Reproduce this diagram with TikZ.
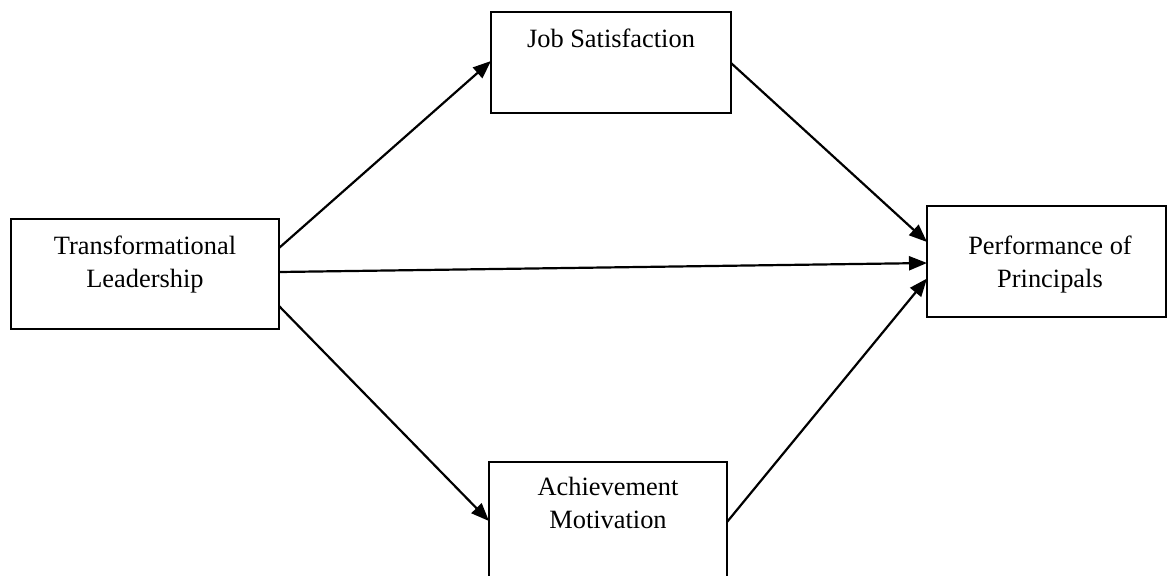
\documentclass[tikz,border=0pt]{standalone}
\usepackage{fontspec}
\setmainfont{Liberation Serif}
\usetikzlibrary{arrows.meta,calc}
\begin{document}
\begin{tikzpicture}[x=0.5pt,y=-0.5pt,
  box/.style={draw=black,line width=1.1pt,fill=white,rectangle,inner sep=0pt,outer sep=0pt},
  lbl/.style={font=\fontsize{13.2}{16.5}\selectfont,align=center,inner sep=0pt,anchor=base},
  arr/.style={line width=1.1pt,-{Triangle[length=9pt,width=7pt]}}]
\clip (0,0) rectangle (1167,575);
\fill[white] (0,0) rectangle (1167,575);
% boxes
\node[box,minimum width=134pt,minimum height=55pt] (tl) at (145,274) {};
\node[box,minimum width=120pt,minimum height=50.5pt] (js) at (611,62.5) {};
\node[box,minimum width=119.5pt,minimum height=55.5pt] (pp) at (1046.5,261.5) {};
\node[box,minimum width=119pt,minimum height=69pt] (am) at (608,531) {};
% labels
\node[lbl] (tlt) at (145,287) {Transformational\\Leadership};
\node[lbl] (jst) at (611,47) {Job Satisfaction};
\node[lbl] (ppt) at (1050,287) {Performance of\\Principals};
\node[lbl] (amt) at (608,528) {Achievement\\Motivation};
% arrows
\draw[arr] ($(tl.east)+(0,-26)$) -- ($(js.west)+(0,-1.5)$);
\draw[arr] ($(js.east)+(0,0.5)$) -- ($(pp.west)+(0,-19.5)$);
\draw[arr] ($(tl.east)+(0,-2)$) -- ($(pp.west)+(0,1.5)$);
\draw[arr] ($(tl.east)+(0,32)$) -- ($(am.west)+(0,-10)$);
\draw[arr] ($(am.east)+(0,-9)$) -- ($(pp.west)+(0,17)$);
\end{tikzpicture}
\end{document}
